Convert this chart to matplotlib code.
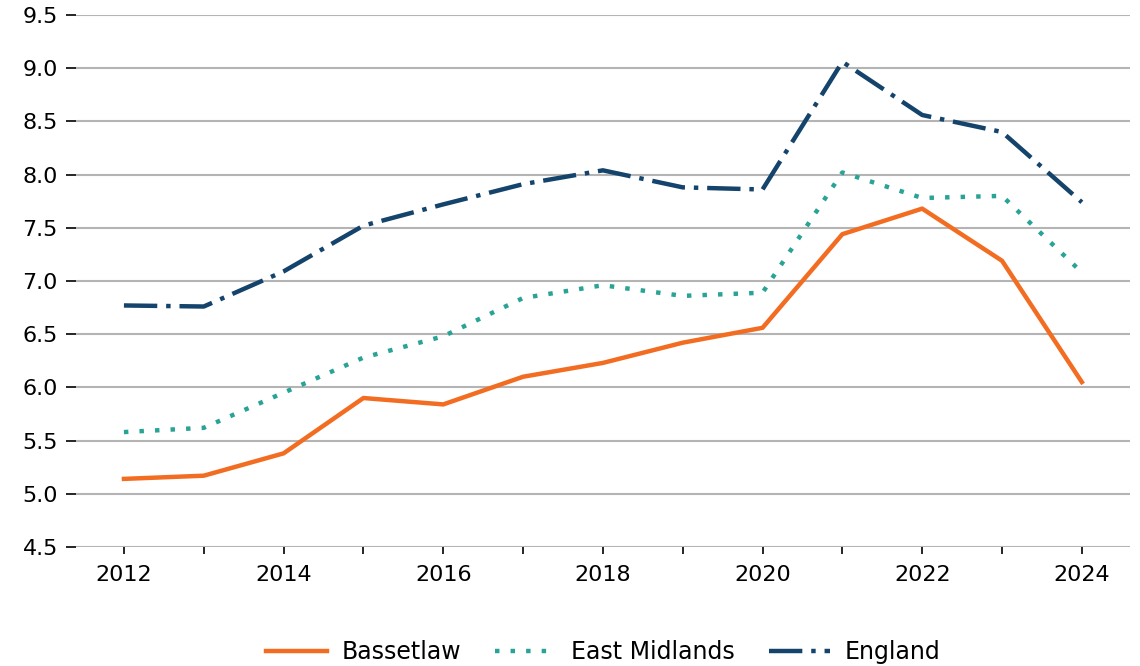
import numpy as np
import matplotlib.pyplot as plt

plt.rcParams.update({
    'font.family': 'DejaVu Sans',
    'font.size': 16,
})

years = [2012, 2013, 2014, 2015, 2016, 2017, 2018, 2019, 2020, 2021, 2022, 2023, 2024]
bassetlaw = [5.14, 5.17, 5.38, 5.90, 5.84, 6.10, 6.23, 6.42, 6.56, 7.44, 7.68, 7.19, 6.05]
east_midlands = [5.58, 5.62, 5.95, 6.28, 6.48, 6.84, 6.96, 6.86, 6.89, 8.02, 7.78, 7.80, 7.08]
england = [6.77, 6.76, 7.09, 7.52, 7.72, 7.91, 8.04, 7.88, 7.86, 9.06, 8.56, 8.40, 7.74]

COLORS = {"Bassetlaw": "#F26D21", "East Midlands": "#2AA397", "England": "#14436B"}

fig = plt.figure(figsize=(11.4, 6.66), dpi=100)
ax = fig.add_axes([0.0667, 0.1787, 0.9243, 0.7988])

ax.plot(years, bassetlaw, color=COLORS["Bassetlaw"], lw=3.2, ls="-", label="Bassetlaw")
ax.plot(years, east_midlands, color=COLORS["East Midlands"], lw=3.2,
        dashes=(1.0, 2.5), dash_capstyle="butt", label="East Midlands")
ax.plot(years, england, color=COLORS["England"], lw=3.2,
        dashes=(7.5, 2.0, 1.0, 2.0), dash_capstyle="butt", label="England")

ax.set_ylim(4.5, 9.5)
ax.set_xlim(2011.4, 2024.6)
ax.set_yticks(np.arange(4.5, 9.51, 0.5))
ax.set_yticklabels([f"{v:.1f}" for v in np.arange(4.5, 9.51, 0.5)])
ax.set_xticks(years)
ax.set_xticklabels([str(y) if y % 2 == 0 else "" for y in years])

ax.grid(axis="y", color="#b4b4b4", lw=1.5)
ax.set_axisbelow(True)
for s in ax.spines.values():
    s.set_visible(False)
ax.tick_params(axis="y", length=7, width=1.2, pad=6)
ax.tick_params(axis="x", length=5, width=1.2, pad=8)

ax.legend(loc="upper center", bbox_to_anchor=(0.5, -0.144), ncol=3, frameon=False,
          fontsize=17, handlelength=2.6, columnspacing=1.45, handletextpad=0.6,
          borderpad=0.2)

fig.savefig("out.png", dpi=100)
